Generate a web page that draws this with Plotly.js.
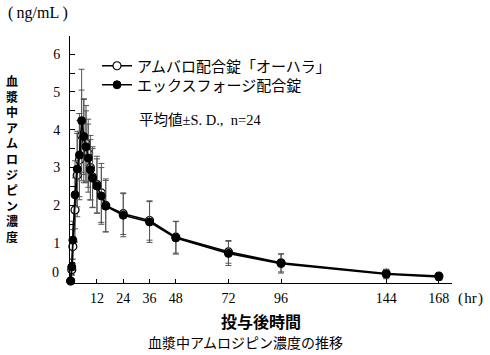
<!DOCTYPE html>
<html><head><meta charset="utf-8">
<script src="https://cdn.plot.ly/plotly-3.0.1.min.js"></script>
<style>html,body{margin:0;padding:0;background:#fff;}#chart{width:490px;height:355px;}</style>
</head><body><div id="chart"></div>
<script>
// ---- data ----
const hours = [0,0.5,1,2,3,4,5,6,7,8,9,10,12,14,16,24,36,48,72,96,144,168];
const seriesNames = ['アムバロ配合錠「オーハラ」','エックスフォージ配合錠'];
const ambaloMean = [0,0.30,0.91,1.88,2.80,3.20,3.85,3.70,3.64,3.38,3.00,2.75,2.55,2.33,2.00,1.78,1.60,1.16,0.77,0.48,0.20,0.13];
const ambaloSD   = [0,0.15,0.45,0.85,1.10,1.05,1.20,1.10,1.00,0.90,0.85,0.80,0.75,0.78,0.70,0.55,0.52,0.42,0.30,0.24,0.11,0.08];
const exforgeMean= [0,0.37,1.08,2.28,2.96,3.33,4.24,3.82,3.55,3.25,2.94,2.72,2.51,2.25,1.98,1.74,1.56,1.14,0.73,0.46,0.18,0.11];
const exforgeSD  = [0,0.20,0.50,0.90,1.00,1.10,1.36,1.00,0.95,0.90,0.80,0.78,0.72,0.75,0.68,0.57,0.54,0.43,0.32,0.25,0.12,0.09];
const xTicks = [12,24,36,48,72,96,144,168];
const yTickVals = [0,0.5,1,1.5,2,2.5,3,3.5,4,4.5,5,5.5,6];
const yTickText = ['','','1','','2','','3','','4','','5','','6'];

// ---- layout helpers (pixel -> paper) ----
const L=70, R=38, T=36, B=72, W=490, H=355;
const pw=W-L-R, ph=H-T-B;
const px=x=>(x-L)/pw, py=y=>(H-B-y)/ph;
const serif='Liberation Serif, "Noto Sans CJK JP", serif';
const jp='"Noto Sans CJK JP", sans-serif';

const traces=[
 {x:hours,y:ambaloMean,name:seriesNames[0],type:'scatter',mode:'lines+markers',legend:'legend',
  line:{color:'#000',width:1.6},
  marker:{symbol:'circle',size:8,color:'#fff',line:{color:'#000',width:1.2}},
  error_y:{type:'data',array:ambaloSD,visible:true,color:'#555',thickness:1,width:3},
  cliponaxis:false},
 {x:hours,y:exforgeMean,name:seriesNames[1],type:'scatter',mode:'lines+markers',legend:'legend2',
  line:{color:'#000',width:1.6},
  marker:{symbol:'circle',size:8,color:'#000',line:{color:'#000',width:1}},
  error_y:{type:'data',array:exforgeSD,visible:true,color:'#555',thickness:1,width:3},
  cliponaxis:false}
];

const yTitle='血漿中アムロジピン濃度'.split('').join('<br>');
const legendStyle=(y)=>({x:px(97),y:py(y),xanchor:'left',yanchor:'middle',bgcolor:'rgba(0,0,0,0)',borderwidth:0,
  font:{family:jp,size:15,color:'#000'},itemwidth:30});

const layout={
 width:W,height:H,margin:{l:L,r:R,t:T,b:B,pad:0},
 paper_bgcolor:'#fff',plot_bgcolor:'#fff',showlegend:true,
 xaxis:{range:[-0.3,174],tickvals:xTicks,ticktext:xTicks.map(String),ticks:'inside',ticklen:4,tickwidth:1,tickcolor:'#000',
  showline:true,linecolor:'#000',linewidth:1,showgrid:false,zeroline:false,ticklabelstandoff:2,
  tickfont:{family:serif,size:14,color:'#000'}},
 yaxis:{range:[-0.053,6.48],tickvals:yTickVals,ticktext:yTickText,ticks:'inside',ticklen:5,tickwidth:1,tickcolor:'#000',
  showline:true,linecolor:'#000',linewidth:1,showgrid:false,zeroline:false,ticklabelstandoff:6,
  tickfont:{family:serif,size:14,color:'#000'}},
 legend:legendStyle(66),
 legend2:legendStyle(85),
 annotations:[
  {xref:'paper',yref:'paper',x:px(137),y:py(120),xanchor:'left',yanchor:'middle',showarrow:false,
   text:'平均値±S. D.,  n=24',font:{family:serif,size:14.5,color:'#000'}},
  {xref:'paper',yref:'paper',x:px(6),y:py(13),xanchor:'left',yanchor:'middle',showarrow:false,
   text:'(\u2009ng/mL\u2009)',font:{family:serif,size:16,color:'#000'}},
  {xref:'paper',yref:'paper',x:px(456),y:py(298),xanchor:'left',yanchor:'middle',showarrow:false,
   text:'(\u200Ahr\u200A)',font:{family:serif,size:15,color:'#000'}},
  {xref:'paper',yref:'paper',x:px(61),y:py(272),xanchor:'right',yanchor:'middle',showarrow:false,
   text:'0',font:{family:serif,size:14,color:'#000'}},
  {xref:'paper',yref:'paper',x:px(12),y:py(158),xanchor:'center',yanchor:'middle',showarrow:false,align:'center',
   text:yTitle,font:{family:jp,size:12,color:'#000',weight:'bold'}},
  {xref:'paper',yref:'paper',x:px(261),y:py(321),xanchor:'center',yanchor:'middle',showarrow:false,
   text:'投与後時間',font:{family:jp,size:16,color:'#000',weight:'bold'}},
  {xref:'paper',yref:'paper',x:px(245),y:py(342),xanchor:'center',yanchor:'middle',showarrow:false,
   text:'血漿中アムロジピン濃度の推移',font:{family:jp,size:14,color:'#000'}}
 ]
};
Plotly.newPlot('chart',traces,layout,{staticPlot:true,displayModeBar:false});
</script></body></html>
